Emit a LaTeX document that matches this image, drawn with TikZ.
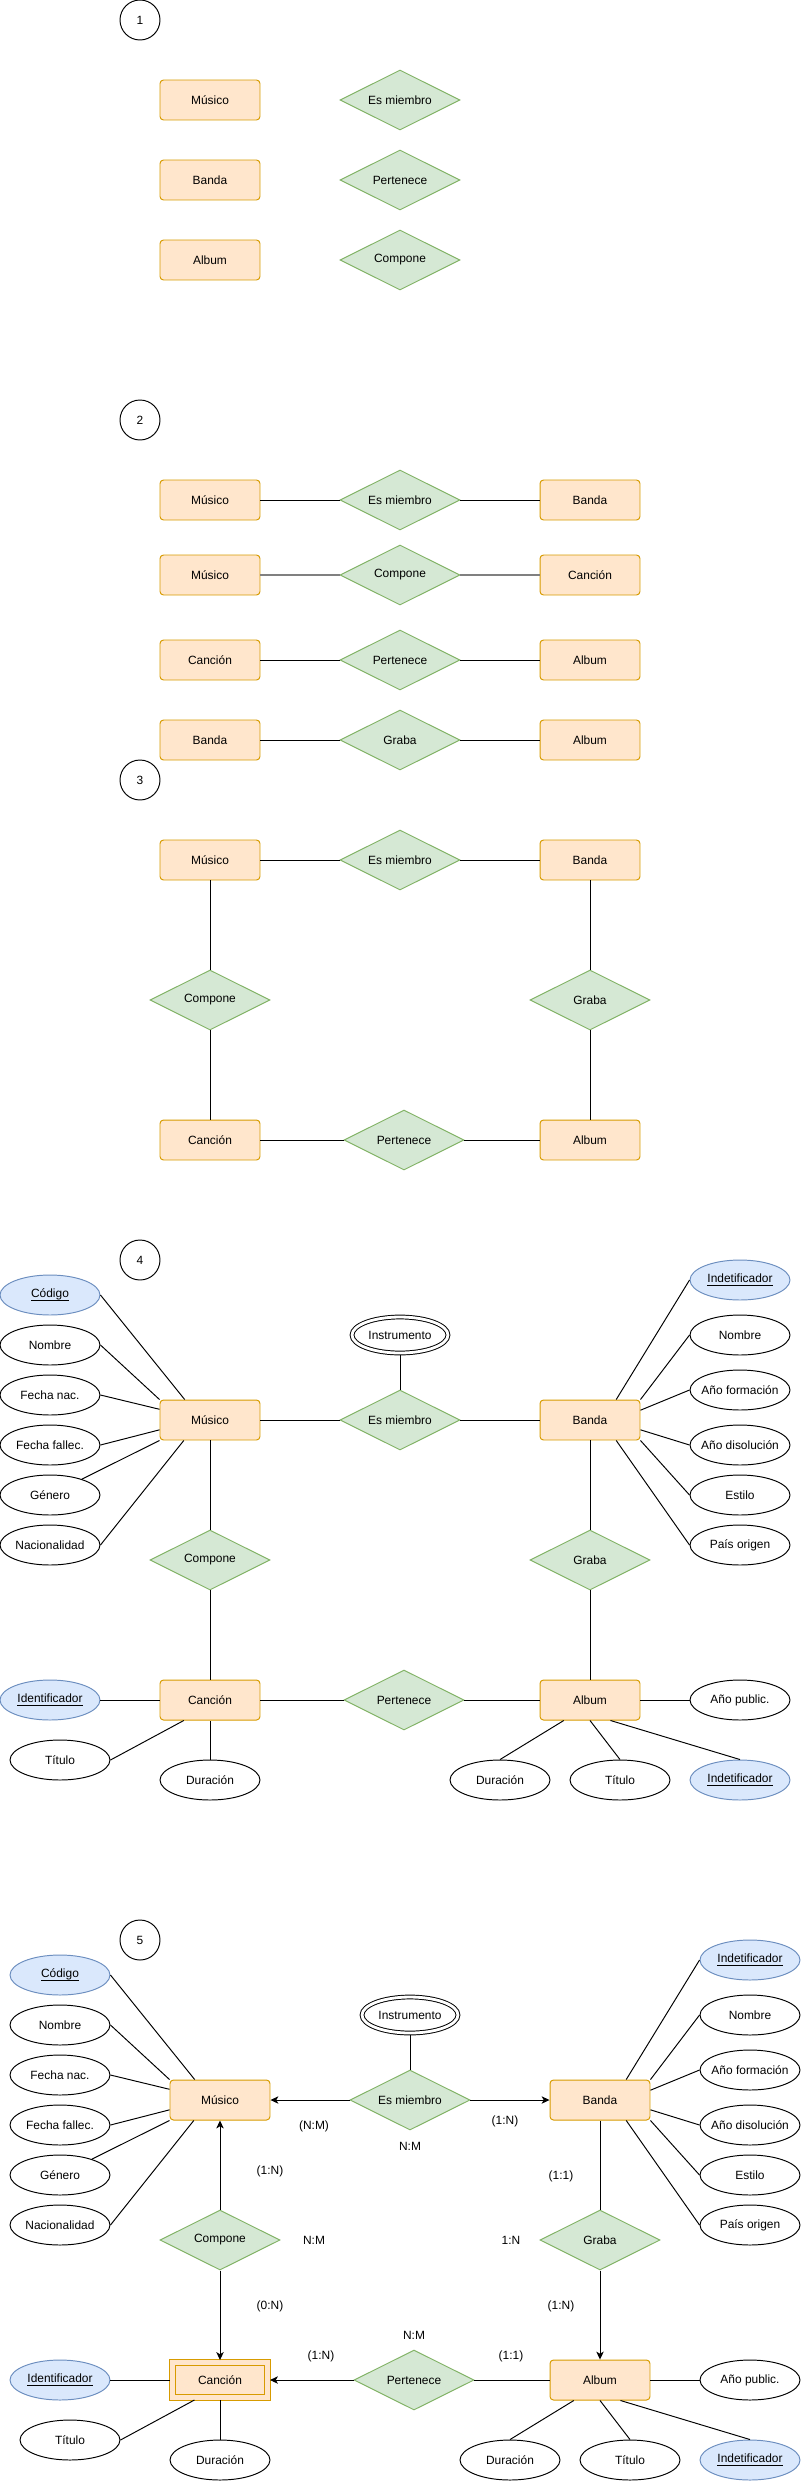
\documentclass[tikz,border=0pt]{standalone}
\usepackage{fontspec}
\setmainfont{Liberation Sans}
\usetikzlibrary{arrows.meta, shapes.geometric, calc}

\newcommand{\keytext}[1]{\underline{\raisebox{0pt}[\height][0pt]{#1}}}

\begin{document}
\begin{tikzpicture}[x=0.02cm, y=-0.02cm, line width=0.55pt,
  every node/.style={font=\fontsize{6.8}{8}\selectfont},
  entity/.style={draw=entstroke, fill=entfill, rounded corners=2pt, minimum width=2cm, minimum height=0.8cm, inner sep=0pt},
  weakentity/.style={draw=entstroke, fill=entfill, double=entfill, double distance=0.085cm, minimum width=1.9cm, minimum height=0.7cm, inner sep=0pt, outer sep=0.05cm},
  relation/.style={diamond, aspect=2, draw=relstroke, fill=relfill, minimum width=2.4cm, minimum height=1.2cm, inner sep=0pt},
  attr/.style={ellipse, draw, fill=white, minimum width=2cm, minimum height=0.8cm, inner sep=0pt, inner xsep=-3pt},
  keyattr/.style={attr, draw=keystroke, fill=keyfill},
  multiattr/.style={attr, double, double distance=1.6pt, minimum width=1.92cm, minimum height=0.72cm, outer sep=0.038cm},
  numcircle/.style={circle, draw, minimum size=0.8cm, inner sep=0pt},
  card/.style={inner sep=0pt},
  relarrow/.style={-{Stealth[length=4.5pt, width=4.2pt, inset=1.2pt]}}
]
% Define colors
\definecolor{entfill}{HTML}{FFE6CC}
\definecolor{entstroke}{HTML}{D79B00}
\definecolor{relfill}{HTML}{D5E8D4}
\definecolor{relstroke}{HTML}{82B366}
\definecolor{keyfill}{HTML}{DAE8FC}
\definecolor{keystroke}{HTML}{6C8EBF}

\useasboundingbox (0,0) rectangle (801,2481);

% Step 1: entities and relations
\node[numcircle] (n1) at (140,20) {1};
\node[entity] (s1mus) at (210,100) {Músico};
\node[entity] (s1ban) at (210,180) {Banda};
\node[entity] (s1alb) at (210,260) {Album};
\node[relation] (s1mie) at (400,100) {Es miembro};
\node[relation] (s1per) at (400,180) {Pertenece};
\node[relation] (s1com) at (400,260) {Compone};

% Step 2: pairs
\node[numcircle] (n2) at (140,420) {2};
\node[entity] (s2mus) at (210,500) {Músico};
\node[relation] (s2mie) at (400,500) {Es miembro};
\node[entity] (s2ban) at (590,500) {Banda};
\node[entity] (s2mus2) at (210,575) {Músico};
\node[relation] (s2com) at (400,575) {Compone};
\node[entity] (s2can) at (590,575) {Canción};
\node[entity] (s2can2) at (210,660) {Canción};
\node[relation] (s2per) at (400,660) {Pertenece};
\node[entity] (s2alb) at (590,660) {Album};
\node[entity] (s2ban2) at (210,740) {Banda};
\node[relation] (s2gra) at (400,740) {Graba};
\node[entity] (s2alb2) at (590,740) {Album};

\draw (s2mus) -- (s2mie) -- (s2ban);
\draw[gray, line width=1.13pt] (s2mus2) -- (s2com);
\draw[gray, line width=1.13pt] (s2com) -- (s2can);
\draw (s2can2) -- (s2per) -- (s2alb);
\draw (s2ban2) -- (s2gra) -- (s2alb2);

% Step 3: joined
\node[numcircle] (n3) at (140,780) {3};
\node[entity] (s3mus) at (210,860) {Músico};
\node[relation] (s3mie) at (400,860) {Es miembro};
\node[entity] (s3ban) at (590,860) {Banda};
\node[relation] (s3com) at (210,1000) {Compone};
\node[relation] (s3gra) at (590,1000) {Graba};
\node[entity] (s3can) at (210,1140) {Canción};
\node[relation] (s3per) at (404,1140) {Pertenece};
\node[entity] (s3alb) at (590,1140) {Album};

\draw (s3mus) -- (s3mie) -- (s3ban);
\draw (s3mus) -- (s3com) -- (s3can);
\draw (s3ban) -- (s3gra) -- (s3alb);
\draw (s3can) -- (s3per) -- (s3alb);

% Step 4: attributes
\node[numcircle] (n4) at (140,1260) {4};
\node[entity] (s4mus) at (210,1420) {Músico};
\node[multiattr] (s4ins) at (400,1335) {Instrumento};
\node[relation] (s4mie) at (400,1420) {Es miembro};
\node[entity] (s4ban) at (590,1420) {Banda};
\node[relation] (s4com) at (210,1560) {Compone};
\node[relation] (s4gra) at (590,1560) {Graba};
\node[entity] (s4can) at (210,1700) {Canción};
\node[relation] (s4per) at (404,1700) {Pertenece};
\node[entity] (s4alb) at (590,1700) {Album};

\node[keyattr] (s4cod) at (50,1295) {\keytext{Código}};
\foreach \n/\t/\y in {nom/Nombre/1345, fnac/Fecha nac./1395, ffal/Fecha fallec./1445, gen/Género/1495, nac/Nacionalidad/1545}
  \node[attr] (s4\n) at (50,\y) {\t};
\node[keyattr] (s4bid) at (740,1280) {\keytext{Indetificador}};
\foreach \n/\t/\y in {bnom/Nombre/1335, bfor/Año formación/1390, bdis/Año disolución/1445, best/Estilo/1495, bpai/País origen/1545}
  \node[attr] (s4\n) at (740,\y) {\t};
\node[keyattr] (s4cid) at (50,1700) {\keytext{Identificador}};
\node[attr] (s4ctit) at (60,1760) {Título};
\node[attr] (s4cdur) at (210,1780) {Duración};
\node[attr] (s4apub) at (740,1700) {Año public.};
\node[attr] (s4adur) at (500,1780) {Duración};
\node[attr] (s4atit) at (620,1780) {Título};
\node[keyattr] (s4aid) at (740,1780) {\keytext{Indetificador}};

\draw (s4mus) -- (s4mie) -- (s4ban);
\draw (s4ins) -- (s4mie);
\draw (s4mus) -- (s4com) -- (s4can);
\draw (s4ban) -- (s4gra) -- (s4alb);
\draw (s4can) -- (s4per) -- (s4alb);
\draw (s4cod.east) -- (s4mus.141.34);
\draw (s4nom.east) -- (s4mus.north west);
\draw (s4fnac.east) -- (s4mus.168.7);
\draw (s4ffal.east) -- (s4mus.191.3);
\draw (s4gen) -- (s4mus.south west);
\draw (s4nac.east) -- (s4mus.218.66);
\draw (s4bid.west) -- (s4ban.38.66);
\draw (s4bnom.west) -- (s4ban.north east);
\draw (s4bfor.west) -- (s4ban.11.31);
\draw (s4bdis.west) -- (s4ban.-11.31);
\draw (s4best.west) -- (s4ban.south east);
\draw (s4bpai.west) -- (s4ban.-38.66);
\draw (s4cid) -- (s4can);
\draw (s4ctit.east) -- (s4can.218.66);
\draw (s4cdur) -- (s4can);
\draw (s4alb) -- (s4apub);
\draw (s4adur.north) -- (s4alb.218.66);
\draw (s4atit.north) -- (s4alb.south);
\draw (s4aid.north) -- (s4alb.-45);

% Step 5: cardinalities
\node[numcircle] (n5) at (140,1940) {5};
\node[entity] (s5mus) at (220,2100) {Músico};
\node[multiattr] (s5ins) at (410,2015) {Instrumento};
\node[relation] (s5mie) at (410,2100) {Es miembro};
\node[entity] (s5ban) at (600,2100) {Banda};
\node[relation] (s5com) at (220,2240) {Compone};
\node[relation] (s5gra) at (600,2240) {Graba};
\node[weakentity] (s5can) at (220,2380) {Canción};
\node[relation] (s5per) at (414,2380) {Pertenece};
\node[entity] (s5alb) at (600,2380) {Album};

\node[keyattr] (s5cod) at (60,1975) {\keytext{Código}};
\foreach \n/\t/\y in {nom/Nombre/2025, fnac/Fecha nac./2075, ffal/Fecha fallec./2125, gen/Género/2175, nac/Nacionalidad/2225}
  \node[attr] (s5\n) at (60,\y) {\t};
\node[keyattr] (s5bid) at (750,1960) {\keytext{Indetificador}};
\foreach \n/\t/\y in {bnom/Nombre/2015, bfor/Año formación/2070, bdis/Año disolución/2125, best/Estilo/2175, bpai/País origen/2225}
  \node[attr] (s5\n) at (750,\y) {\t};
\node[keyattr] (s5cid) at (60,2380) {\keytext{Identificador}};
\node[attr] (s5ctit) at (70,2440) {Título};
\node[attr] (s5cdur) at (220,2460) {Duración};
\node[attr] (s5apub) at (750,2380) {Año public.};
\node[attr] (s5adur) at (510,2460) {Duración};
\node[attr] (s5atit) at (630,2460) {Título};
\node[keyattr] (s5aid) at (750,2460) {\keytext{Indetificador}};

\draw[relarrow] (s5mie) -- (s5mus);
\draw[relarrow] (s5mie) -- (s5ban);
\draw (s5ins) -- (s5mie);
\draw[relarrow] (s5com) -- (s5mus);
\draw[relarrow] (s5com) -- (s5can);
\draw (s5ban) -- (s5gra);
\draw[relarrow] (s5gra) -- (s5alb);
\draw[relarrow] (s5per) -- (s5can);
\draw (s5per) -- (s5alb);
\draw (s5cod.east) -- (s5mus.141.34);
\draw (s5nom.east) -- (s5mus.north west);
\draw (s5fnac.east) -- (s5mus.168.7);
\draw (s5ffal.east) -- (s5mus.191.3);
\draw (s5gen) -- (s5mus.south west);
\draw (s5nac.east) -- (s5mus.218.66);
\draw (s5bid.west) -- (s5ban.38.66);
\draw (s5bnom.west) -- (s5ban.north east);
\draw (s5bfor.west) -- (s5ban.11.31);
\draw (s5bdis.west) -- (s5ban.-11.31);
\draw (s5best.west) -- (s5ban.south east);
\draw (s5bpai.west) -- (s5ban.-38.66);
\draw (s5cid) -- (s5can);
\draw (s5ctit.east) -- (s5can.218.66);
\draw (s5cdur) -- (s5can);
\draw (s5alb) -- (s5apub);
\draw (s5adur.north) -- (s5alb.218.66);
\draw (s5atit.north) -- (s5alb.south);
\draw (s5aid.north) -- (s5alb.-45);

% Labels
\node[card] (k1) at (314,2126) {(N:M)};
\node[card] (k2) at (505,2121) {(1:N)};
\node[card] (k3) at (410,2146) {N:M};
\node[card] (k4) at (270,2171) {(1:N)};
\node[card] (k5) at (561,2176) {(1:1)};
\node[card] (k6) at (314,2240) {N:M};
\node[card] (k7) at (511,2240) {1:N};
\node[card] (k8) at (270,2306) {(0:N)};
\node[card] (k9) at (561,2306) {(1:N)};
\node[card] (k10) at (414,2335) {N:M};
\node[card] (k11) at (321,2356) {(1:N)};
\node[card] (k12) at (511,2356) {(1:1)};
\end{tikzpicture}
\end{document}
